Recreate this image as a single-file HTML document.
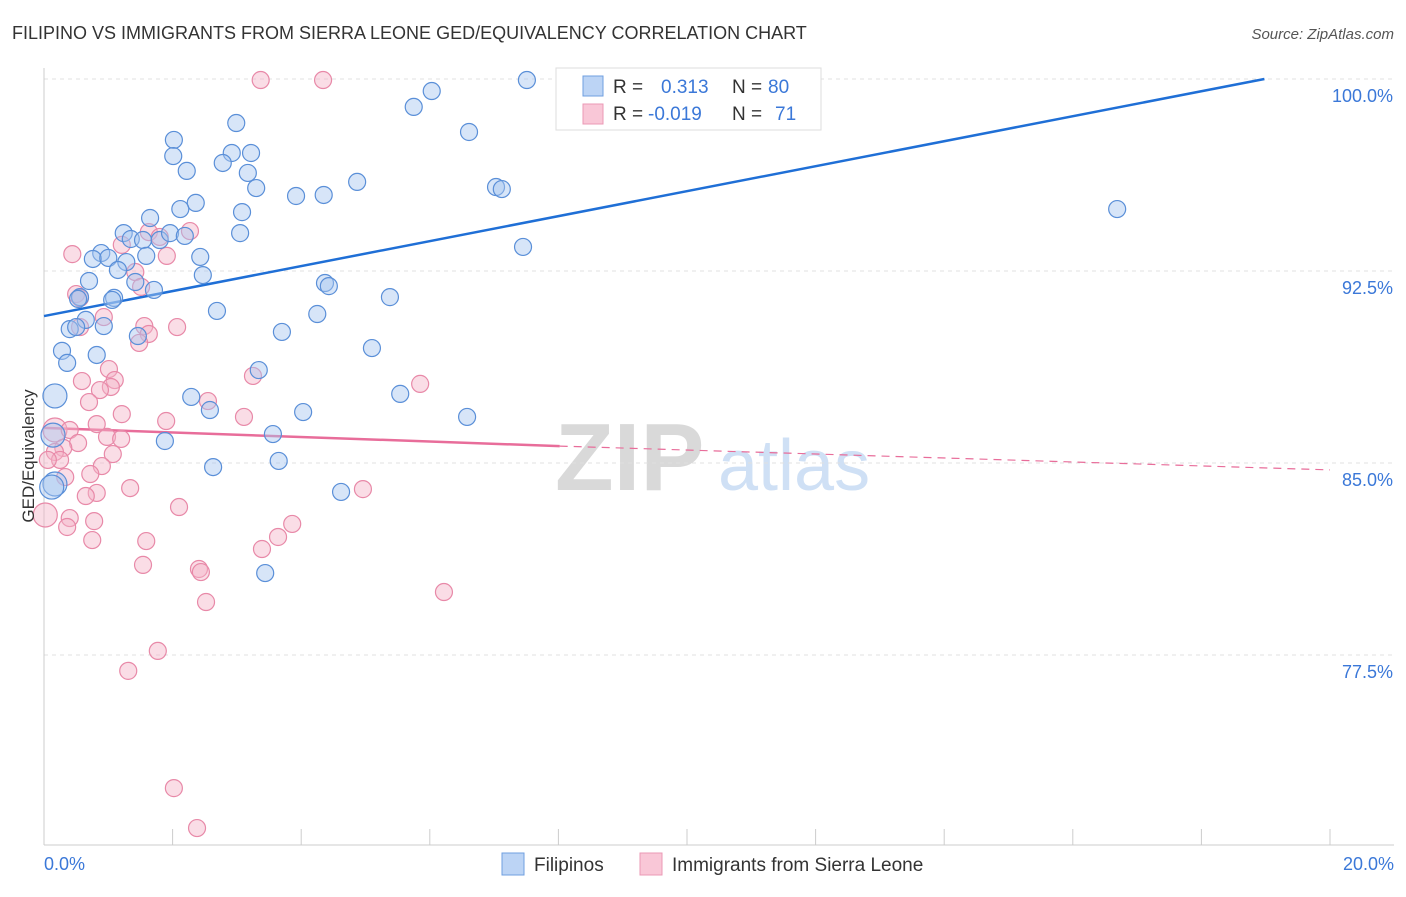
<!DOCTYPE html>
<html><head><meta charset="utf-8"><style>
body{margin:0;background:#fff;font-family:"Liberation Sans",sans-serif;}
svg text{font-family:"Liberation Sans",sans-serif;}
</style></head><body>
<svg id="chart" width="1406" height="892" xmlns="http://www.w3.org/2000/svg">
<text x="12" y="39" font-size="18" fill="#333">FILIPINO VS IMMIGRANTS FROM SIERRA LEONE GED/EQUIVALENCY CORRELATION CHART</text>
<text x="1394" y="39" font-size="15" fill="#555" text-anchor="end" font-style="italic">Source: ZipAtlas.com</text>
<g>
<text x="555" y="490" font-size="96" fill="#d9d9d9" font-family="Liberation Serif" font-weight="bold">ZIP</text>
<text x="718" y="490" font-size="72" fill="#cfe0f5">atlas</text>
</g>
<g id="grid"></g><g id="axes"></g><g id="trends"></g><g id="pts"></g>
<text transform="translate(34,456) rotate(-90)" font-size="17" fill="#333" text-anchor="middle">GED/Equivalency</text>
<g>
<rect x="556" y="68" width="265" height="62" fill="#fff" stroke="#ddd"/>
<rect x="583" y="76" width="20" height="20" fill="#bcd4f5" stroke="#6f9fe0"/>
<rect x="583" y="104" width="20" height="20" fill="#f9c7d7" stroke="#eb98b5"/>
<text x="613" y="93" font-size="19" fill="#333">R = </text><text x="661" y="93" font-size="19" fill="#3b78d8">0.313</text>
<text x="732" y="93" font-size="19" fill="#333">N = </text><text x="768" y="93" font-size="19" fill="#3b78d8">80</text>
<text x="613" y="120" font-size="19" fill="#333">R = </text><text x="648" y="120" font-size="19" fill="#3b78d8">-0.019</text>
<text x="732" y="120" font-size="19" fill="#333">N = </text><text x="775" y="120" font-size="19" fill="#3b78d8">71</text>
</g>
<g>
<rect x="502" y="853" width="22" height="22" fill="#bcd4f5" stroke="#6f9fe0"/>
<text x="534" y="871" font-size="19" fill="#333">Filipinos</text>
<rect x="640" y="853" width="22" height="22" fill="#f9c7d7" stroke="#eb98b5"/>
<text x="672" y="871" font-size="19" fill="#333">Immigrants from Sierra Leone</text>
</g>
</svg>
<script>
const xTickVals=[0,2,4,6,8,10,12,14,16,18,20];
const yTickVals=[77.5,85,92.5,100];
const yTickLabels=["77.5%","85.0%","92.5%","100.0%"];
const blueX=[11.76,7.51,6.03,5.75,6.61,2.99,2.02,2.01,2.92,3.22,2.78,2.22,3.17,3.30,3.92,4.35,4.87,7.03,7.12,2.36,2.12,1.65,3.08,1.24,1.35,1.54,1.80,1.96,2.19,3.05,0.89,0.76,1.00,1.28,1.59,2.43,1.15,2.47,0.70,1.42,1.71,4.37,4.43,5.38,0.56,0.53,1.09,1.06,2.69,4.25,0.65,0.93,0.40,0.50,3.70,1.46,0.28,0.82,0.36,5.10,3.34,0.17,2.29,2.58,4.03,5.54,6.58,0.14,1.88,3.56,2.63,3.65,0.17,0.12,4.62,3.44,7.45,16.69];
const blueY=[99.96,99.96,99.53,98.91,97.93,98.28,97.62,96.99,97.11,97.11,96.72,96.41,96.33,95.74,95.43,95.47,95.98,95.78,95.70,95.16,94.92,94.57,94.80,93.98,93.75,93.71,93.71,93.98,93.87,93.98,93.20,92.97,93.01,92.85,93.09,93.05,92.54,92.34,92.11,92.07,91.76,92.03,91.91,91.48,91.48,91.41,91.45,91.37,90.94,90.82,90.59,90.35,90.23,90.31,90.12,89.96,89.38,89.22,88.91,89.49,88.63,87.62,87.58,87.07,86.99,87.70,86.80,86.09,85.86,86.13,84.84,85.08,84.18,84.06,83.87,80.70,93.44,94.92];
const pinkX=[3.37,4.34,0.44,1.21,1.63,1.80,2.27,1.91,1.42,1.51,0.50,0.56,0.93,1.56,1.63,2.07,0.56,1.48,1.01,1.10,0.59,1.04,0.87,0.70,2.55,1.21,1.90,3.11,3.25,5.85,0.17,0.82,0.40,0.98,1.20,0.53,0.30,0.17,1.07,0.25,0.90,0.72,0.33,1.34,0.82,0.65,4.96,2.10,0.40,0.78,0.36,3.86,0.75,3.64,1.59,3.39,1.54,2.41,2.44,2.52,6.22,1.77,1.31,2.02,2.38,0.02,0.06];
const pinkY=[99.96,99.96,93.16,93.52,94.02,93.83,94.06,93.09,92.46,91.88,91.60,91.45,90.70,90.35,90.04,90.31,90.31,89.69,88.67,88.24,88.20,87.97,87.85,87.38,87.42,86.91,86.64,86.80,88.40,88.09,86.29,86.52,86.29,86.02,85.94,85.78,85.59,85.43,85.35,85.12,84.88,84.57,84.45,84.02,83.83,83.71,83.98,83.28,82.85,82.73,82.50,82.62,81.99,82.11,81.95,81.64,81.02,80.86,80.74,79.57,79.96,77.66,76.88,72.30,70.74,82.97,85.12];
const bigBlue=[61,67,72,73];
const bigPink=[30,65];
const blueTrendX=[0,18.98], blueTrendY=[90.74,100];
const pinkTrendX=[0,8.02,20], pinkTrendY=[86.37,85.66,84.73];

const NS="http://www.w3.org/2000/svg";
const X0=44,X1=1330,Y100=79,PXPER=25.6;
const sx=v=>X0+(v/20)*(X1-X0);
const sy=v=>Y100+(100-v)*PXPER;
function mk(p,t,a){const e=document.createElementNS(NS,t);for(const k in a)e.setAttribute(k,a[k]);p.appendChild(e);return e;}
const grid=document.getElementById('grid'),axes=document.getElementById('axes'),tr=document.getElementById('trends'),pts=document.getElementById('pts');
yTickVals.forEach((v,i)=>{
 const l=mk(grid,'line',{x1:X0,x2:1394,y1:sy(v),y2:sy(v),stroke:'#e0e0e0','stroke-dasharray':'4,4'});
 
 
 const t=mk(axes,'text',{x:1393,y:sy(v)+23,'font-size':18,fill:'#3b78d8','text-anchor':'end'});
 t.textContent=yTickLabels[i];
 
 
});
const ax=mk(axes,'line',{x1:X0,x2:X0,y1:68,y2:845,stroke:'#ccc'});


const bx=mk(axes,'line',{x1:X0,x2:1394,y1:845,y2:845,stroke:'#ccc'});


xTickVals.forEach(v=>{
 const l=mk(axes,'line',{x1:sx(v),x2:sx(v),y1:829,y2:845,stroke:'#ccc'});
 
 
});
const xl0=mk(axes,'text',{x:44,y:870,'font-size':18,fill:'#3b78d8'});xl0.textContent=xTickVals[0].toFixed(1)+'%';


const xl1=mk(axes,'text',{x:1394,y:870,'font-size':18,fill:'#3b78d8','text-anchor':'end'});xl1.textContent=xTickVals[10].toFixed(1)+'%';



function dots(X,Y,big,fill,stroke,name){
 X.forEach((x,i)=>{
  const c=mk(pts,'circle',{cx:sx(x),cy:sy(Y[i]),r:big.includes(i)?12:8.5,fill:fill,stroke:stroke,'stroke-width':1.2,'fill-opacity':0.45});
  
  
 });
}
dots(pinkX,pinkY,bigPink,'#f5b3c8','#e889a8','pink-point');
dots(blueX,blueY,bigBlue,'#a7c6f0','#5a8fd8','blue-point');

const bl=mk(tr,'line',{x1:sx(blueTrendX[0]),y1:sy(blueTrendY[0]),x2:sx(blueTrendX[1]),y2:sy(blueTrendY[1]),stroke:'#1f6fd6','stroke-width':2.5});


const pl=mk(tr,'line',{x1:sx(pinkTrendX[0]),y1:sy(pinkTrendY[0]),x2:sx(pinkTrendX[1]),y2:sy(pinkTrendY[1]),stroke:'#e86d9a','stroke-width':2.5});


const pd=mk(tr,'line',{x1:sx(pinkTrendX[1]),y1:sy(pinkTrendY[1]),x2:sx(pinkTrendX[2]),y2:sy(pinkTrendY[2]),stroke:'#e86d9a','stroke-width':1.2,'stroke-dasharray':'8,6'});


</script>
</body></html>
